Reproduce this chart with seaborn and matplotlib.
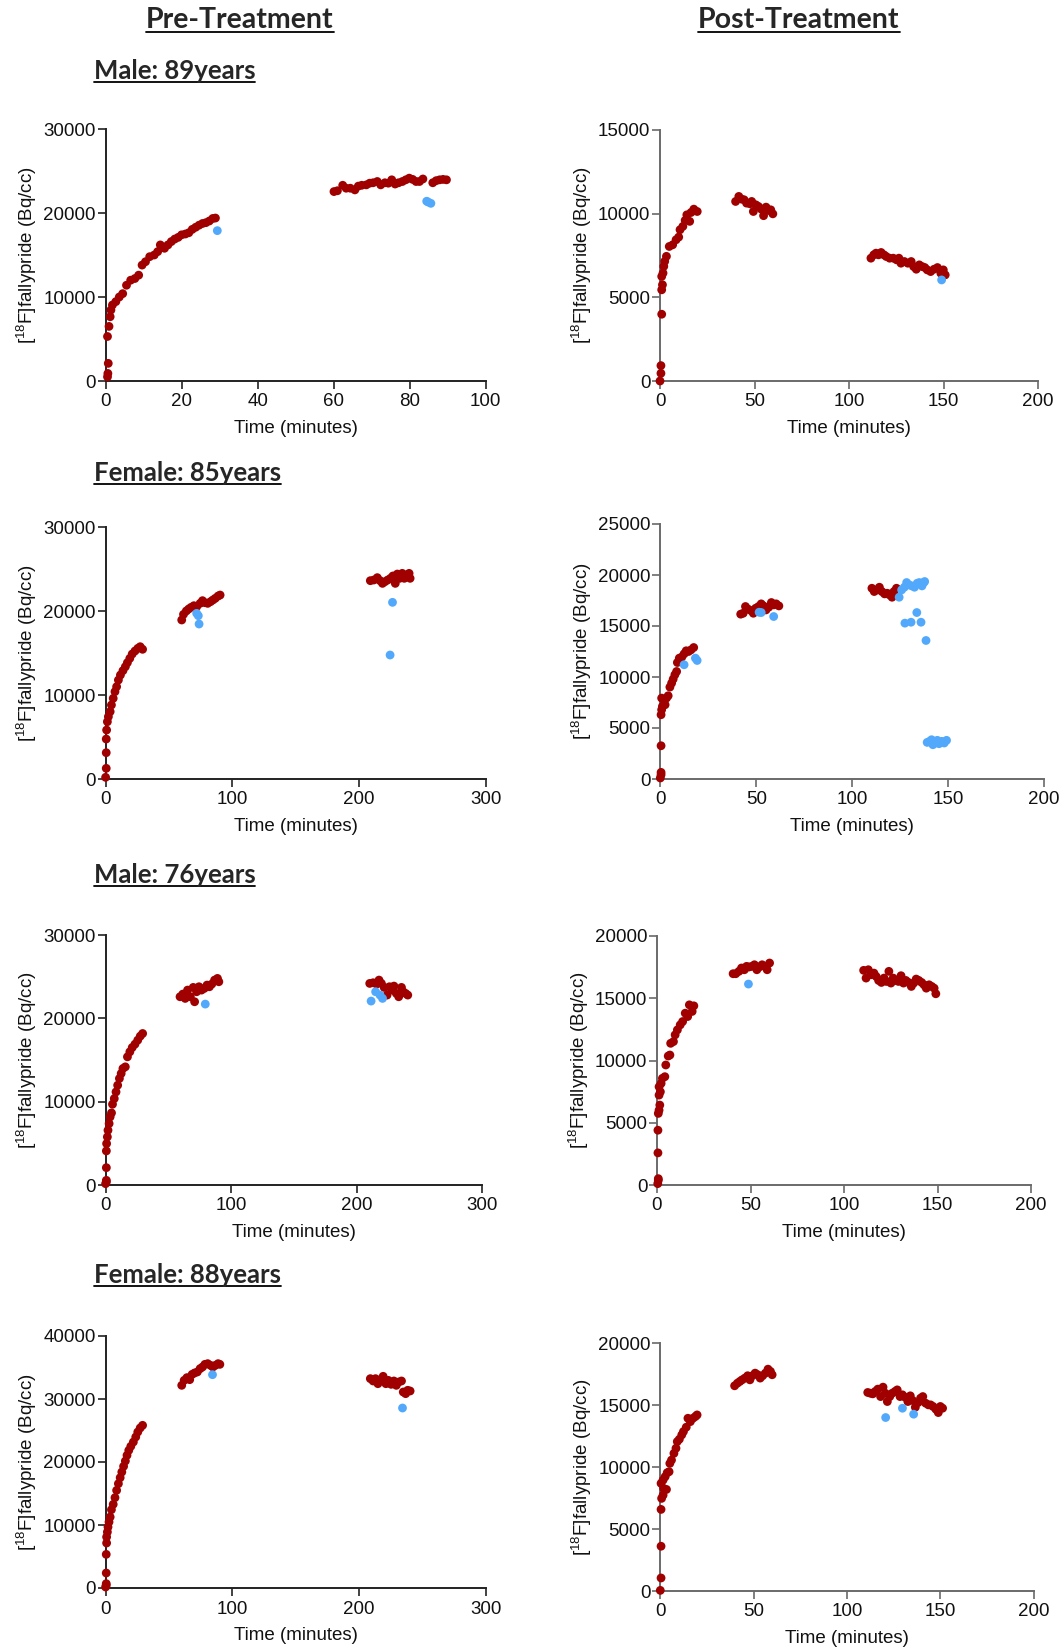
import numpy as np
import pandas as pd
import matplotlib
matplotlib.use("Agg")
import matplotlib.pyplot as plt
import seaborn as sns
from matplotlib.lines import Line2D

# ---------------- DATA ----------------
col_titles = ["Pre-Treatment", "Post-Treatment"]
row_titles = ["Male: 89years", "Female: 85years", "Male: 76years", "Female: 88years"]
y_label = "[$^{18}$F]fallypride (Bq/cc)"
x_label = "Time (minutes)"

# Panel 1: Pre, Male 89
p1_red_x = [0.5, 0.6, 0.7, 0.5, 0.9, 1.2, 1.4, 1.8, 2.7, 3.6, 4.5, 5.5, 6.6, 7.7, 8.7, 9.6, 10.5, 11.6, 12.8, 13.7,
            14.4, 15.5, 16.4, 17.3, 18.2, 19.1, 20.0, 21.0, 21.9, 22.8, 23.7, 24.6, 25.5, 26.4, 27.3, 28.2, 28.9,
            60.1, 61.0, 62.4, 63.3, 64.4, 65.6, 66.5, 67.4, 68.6, 69.5, 70.4, 71.5, 72.4, 73.5, 74.4, 75.3, 76.2,
            77.1, 78.1, 79.0, 79.9, 80.8, 81.7, 82.6, 83.5, 86.1, 87.0, 87.9, 88.8, 89.7]
p1_red_y = [500, 900, 2100, 5300, 6500, 7650, 8450, 9050, 9450, 10000, 10400, 11400, 12000, 12200, 12600, 13800,
            14200, 14800, 15000, 15400, 16200, 15800, 16200, 16600, 16900, 17100, 17400, 17500, 17650, 18050, 18300,
            18550, 18750, 18850, 19050, 19350, 19400,
            22550, 22650, 23300, 22950, 22950, 22750, 23200, 23300, 23350, 23550, 23600, 23750, 23350, 23600, 23550,
            23950, 23450, 23600, 23750, 23950, 24150, 24000, 23750, 23750, 24050, 23600, 23850, 23950, 24000, 23950]
p1_blue_x = [29.4, 84.5, 84.9, 85.6]
p1_blue_y = [17900, 21400, 21300, 21150]

# Panel 2: Post, Male 89
p2_red_x = [0, 0.5, 0.5, 0.9, 0.9, 1.3, 0.9, 1.6, 2.0, 2.5, 3.4, 4.9, 6.7, 8.5, 9.9, 10.6, 12.1, 13.3, 14.2, 15.7,
            16.4, 17.9, 19.7,
            40.0, 41.7, 43.1, 44.5, 45.8, 47.6, 48.5, 49.4, 50.7, 52.1, 53.6, 54.8, 56.1, 57.5, 58.6, 59.7,
            111.6, 113.1, 114.3, 115.6, 117.0, 118.5, 119.7, 121.5, 123.4, 125.2, 126.4, 127.5, 129.3, 131.1, 132.9,
            134.2, 135.6, 137.2, 138.7, 140.1, 141.4, 143.2, 145.0, 146.8, 148.6, 149.9, 150.9]
p2_red_y = [0, 460, 920, 3990, 5450, 5750, 6250, 6450, 6850, 7150, 7450, 8040, 8140, 8440, 8600, 9040, 9240, 9600,
            9930, 9540, 10070, 10270, 10130,
            10730, 11030, 10870, 10830, 10630, 10590, 10730, 10130, 10530, 10430, 10270, 9880, 10390, 10190, 10230,
            9990,
            7340, 7540, 7640, 7540, 7680, 7540, 7440, 7340, 7340, 7240, 7340, 7040, 7140, 7040, 7140, 6840, 6680,
            6940, 6840, 6780, 6640, 6540, 6680, 6780, 6440, 6640, 6340]
p2_blue_x = [149.0]
p2_blue_y = [6040]

# Panel 3: Pre, Female 85
p3_red_x = [0, 0.5, 0.5, 0.5, 0.8, 1.4, 2.2, 3.6, 4.6, 6.0, 7.4, 8.7, 10.1, 11.7, 13.7, 15.6, 17.2, 19.1, 21.0,
            23.2, 25.4, 27.3, 29.2,
            60.1, 61.5, 63.7, 65.6, 67.5, 69.7, 71.9, 74.6, 76.5, 78.4, 80.6, 82.8, 84.7, 86.6, 88.8, 90.4,
            209.0, 211.7, 214.5, 216.7, 218.6, 220.5, 222.7, 224.9, 226.8, 228.7, 230.3, 232.2, 234.2, 235.8, 237.7,
            239.6, 240.4]
p3_red_y = [200, 1270, 3130, 4760, 5830, 6820, 7420, 8020, 8810, 9600, 10400, 10990, 11780, 12380, 12900, 13370,
            13850, 14360, 14880, 15240, 15550, 15750, 15440,
            18930, 19600, 20000, 20240, 20440, 20630, 20510, 20910, 21230, 20990, 20910, 21110, 21310, 21510, 21780,
            21900,
            23610, 23690, 23970, 23610, 23290, 23490, 23690, 23890, 24170, 23290, 24400, 23890, 24480, 23890, 24280,
            24480, 23890]
p3_blue_x = [71.9, 73.2, 73.8, 226.5, 224.6]
p3_blue_y = [19720, 19440, 18450, 21030, 14760]

# Panel 4: Post, Female 85
p4_red_x = [0, 0.4, 0.4, 0.4, 0.4, 0.7, 1.1, 0.7, 1.8, 2.5, 3.2, 4.1, 5.0, 5.9, 6.7, 7.6, 8.5, 8.9, 9.9, 11.2,
            12.4, 13.5, 14.7, 16.0, 17.4,
            41.9, 43.2, 44.4, 45.8, 47.2, 48.5, 49.7, 51.2, 52.6, 53.8, 55.1, 56.5, 57.9, 59.1, 60.4, 61.8,
            110.3, 111.5, 113.0, 114.2, 115.5, 116.9, 118.3, 119.5, 120.8, 121.8, 123.1]
p4_red_y = [100, 420, 650, 3260, 6300, 6790, 7120, 7930, 7770, 7280, 7930, 8160, 9010, 9400, 9790, 10220, 10540,
            11420, 11850, 11950, 12270, 12570, 12500, 12660, 12890,
            16160, 16250, 16910, 16650, 16520, 16250, 16740, 16910, 17170, 16970, 16580, 16840, 17300, 17070, 17170,
            16970,
            18700, 18380, 18540, 18800, 18380, 18150, 18210, 18050, 17820, 18380, 18700]
p4_blue_x = [12.4, 18.3, 19.2, 51.5, 52.6, 59.1,
             124.5, 125.8, 127.2, 128.4, 129.7, 131.1, 132.5, 133.9, 135.0, 136.4, 137.3, 137.8,
             127.5, 130.7, 133.7, 135.9, 138.5,
             139.1, 140.3, 141.4, 142.1, 143.2, 144.4, 145.3, 146.7, 148.0, 149.2]
p4_blue_y = [11200, 11850, 11620, 16350, 16320, 15930,
             17820, 18540, 18800, 19260, 19030, 18930, 18800, 19190, 19260, 18930, 19260, 19360,
             15280, 15370, 16320, 15370, 13580,
             3590, 3690, 3850, 3360, 3530, 3790, 3460, 3690, 3530, 3790]

# Panel 5: Pre, Male 76
p5_red_x = [0, 0.6, 0.6, 0.6, 0.6, 0.8, 1.4, 1.9, 2.8, 3.6, 4.7, 5.5, 6.9, 8.3, 9.6, 11.0, 12.4, 13.8, 15.7, 17.4,
            19.3, 21.2, 23.4, 25.6, 27.6, 29.5,
            59.3, 61.5, 63.4, 65.3, 67.5, 69.8, 70.9, 72.5, 74.4, 76.4, 78.6, 80.8, 82.7, 84.6, 86.8, 89.1, 90.2,
            210.4, 213.1, 215.9, 217.8, 219.7, 221.9, 224.2, 226.1, 228.0, 229.7, 231.6, 233.5, 235.7, 237.1,
            239.0, 240.7]
p5_red_y = [160, 360, 560, 2080, 4090, 4970, 5770, 6570, 7370, 8170, 8650, 9690, 10370, 11170, 11970, 12780, 13380,
            13980, 14180, 15380, 15980, 16500, 16900, 17380, 17860, 18180,
            22590, 22910, 22390, 23390, 22590, 23710, 21990, 23190, 23790, 23390, 23590, 23990, 23790, 24110, 24590,
            24790, 24390,
            24190, 24270, 24110, 24590, 24190, 23710, 22790, 23790, 23390, 23870, 22990, 22590, 23710, 23190,
            22990, 22790]
p5_blue_x = [79.4, 211.5, 215.1, 218.6, 220.6]
p5_blue_y = [21710, 22070, 23190, 22790, 22390]

# Panel 6: Post, Male 76
p6_red_x = [0.4, 0.7, 0.7, 0.5, 0.5, 0.7, 1.1, 1.5, 1.1, 1.8, 1.1, 2.2, 2.9, 4.2, 4.7, 6.0, 6.9, 7.3, 8.8, 9.7,
            10.9, 12.4, 13.7, 15.1, 16.4, 17.3, 18.8, 19.7,
            40.7, 42.1, 43.8, 45.2, 46.7, 47.9, 49.2, 50.7, 52.1, 53.4, 54.7, 56.2, 57.6, 58.9, 60.2,
            110.5, 111.8, 113.0, 114.5, 116.0, 117.2, 118.5, 120.0, 121.4, 122.7, 124.0, 125.1, 126.3, 127.6,
            129.1, 130.5, 131.8, 133.1, 134.5, 136.0, 137.3, 138.6, 140.0, 141.5, 142.8, 144.0, 145.5, 146.9,
            148.2, 149.1]
p6_red_y = [110, 380, 510, 2580, 4400, 5750, 6010, 6420, 7220, 7490, 7890, 8160, 8570, 8700, 9640, 10360, 10440,
            11380, 11520, 12060, 12460, 12860, 13130, 13800, 13530, 14470, 13940, 14390,
            16970, 16970, 17160, 17430, 17290, 17560, 17510, 17560, 17690, 17290, 17510, 17690, 17560, 17290, 17830,
            17240, 16620, 17290, 16890, 17020, 16750, 16430, 16270, 16620, 16350, 17160, 16220, 16620, 16430,
            16350, 16810, 16220, 16430, 16270, 15950, 16220, 16540, 16430, 16270, 16080, 15810, 16080, 15950,
            15810, 15360]
p6_blue_x = [48.9]
p6_blue_y = [16140]

# Panel 7: Pre, Female 88
p7_red_x = [0, 0.5, 0.5, 0.5, 0.5, 0.8, 0.8, 1.4, 1.9, 2.7, 3.6, 4.6, 6.0, 7.4, 8.7, 10.1, 11.5, 12.8, 14.2, 15.6,
            16.9, 18.3, 19.9, 21.9, 23.8, 25.4, 27.3, 29.2,
            60.1, 62.0, 64.2, 66.4, 68.3, 70.2, 72.4, 74.6, 76.5, 78.4, 80.6, 82.8, 84.7, 86.6, 88.8, 90.2,
            209.0, 211.2, 213.1, 215.0, 217.2, 219.1, 221.3, 223.2, 225.4, 227.6, 229.5, 231.4, 233.6, 235.0,
            236.9, 238.5, 240.4]
p7_red_y = [160, 420, 690, 2380, 5340, 7140, 8100, 8890, 9680, 10480, 11270, 12430, 13280, 14340, 15500, 16560,
            17510, 18410, 19310, 20160, 21060, 21850, 22490, 23170, 23970, 24760, 25400, 25820,
            32170, 32960, 33390, 33070, 33910, 34130, 34290, 34820, 35080, 35500, 35610, 35340, 35080, 35340, 35610,
            35500,
            33230, 32860, 33230, 32430, 32960, 33600, 32430, 32960, 32330, 32860, 32170, 32700, 32860, 31110,
            30850, 31380, 31270]
p7_blue_x = [84.4, 234.4]
p7_blue_y = [33860, 28570]

# Panel 8: Post, Female 88
p8_red_x = [0, 0.4, 0.4, 0.4, 0.7, 0.4, 1.5, 1.8, 1.5, 2.6, 3.3, 3.7, 4.7, 5.1, 6.0, 7.3, 8.4, 9.1, 10.2, 11.5,
            12.4, 13.9, 14.8, 16.1, 17.5, 18.8, 19.7,
            39.8, 41.3, 42.6, 43.8, 45.3, 46.8, 48.0, 49.3, 50.8, 52.2, 53.5, 54.8, 56.3, 57.7, 59.0, 59.9,
            111.1, 112.5, 113.8, 115.1, 116.5, 118.0, 119.3, 120.5, 121.6, 122.9, 124.2, 125.7, 126.9, 128.4,
            129.7, 131.1, 132.6, 133.9, 135.2, 136.6, 138.1, 139.4, 140.6, 142.1, 143.6, 144.8, 146.1, 147.6,
            148.9, 150.0, 151.2]
p8_red_y = [50, 1050, 3610, 6580, 7470, 8680, 7730, 8270, 8950, 9220, 8190, 9540, 9620, 10290, 10560, 11100,
            11510, 12050, 12240, 12590, 12860, 13210, 13930, 13660, 13930, 14070, 14200,
            16550, 16760, 16900, 17030, 17170, 17360, 17030, 17360, 17570, 17440, 17170, 17360, 17570, 17890, 17710,
            17440,
            16010, 15950, 15900, 16090, 16280, 15680, 16440, 15950, 15280, 15680, 15950, 16090, 16220, 15680,
            15820, 15630, 15280, 15740, 15360, 14820, 15200, 15550, 15680, 15150, 15010, 15010, 14880, 14660,
            14390, 14880, 14740]
p8_blue_x = [120.7, 129.7, 135.7]
p8_blue_y = [13990, 14740, 14260]

x_limits = [100, 200, 300, 200, 300, 200, 300, 200]
x_ticks = [[0, 20, 40, 60, 80, 100], [0, 50, 100, 150, 200], [0, 100, 200, 300], [0, 50, 100, 150, 200],
           [0, 100, 200, 300], [0, 50, 100, 150, 200], [0, 100, 200, 300], [0, 50, 100, 150, 200]]
y_ticks = [[0, 10000, 20000, 30000], [0, 5000, 10000, 15000], [0, 10000, 20000, 30000],
           [0, 5000, 10000, 15000, 20000, 25000], [0, 10000, 20000, 30000], [0, 5000, 10000, 15000, 20000],
           [0, 10000, 20000, 30000, 40000], [0, 5000, 10000, 15000, 20000]]

panels = [
    (p1_red_x, p1_red_y, p1_blue_x, p1_blue_y),
    (p2_red_x, p2_red_y, p2_blue_x, p2_blue_y),
    (p3_red_x, p3_red_y, p3_blue_x, p3_blue_y),
    (p4_red_x, p4_red_y, p4_blue_x, p4_blue_y),
    (p5_red_x, p5_red_y, p5_blue_x, p5_blue_y),
    (p6_red_x, p6_red_y, p6_blue_x, p6_blue_y),
    (p7_red_x, p7_red_y, p7_blue_x, p7_blue_y),
    (p8_red_x, p8_red_y, p8_blue_x, p8_blue_y),
]

# ---------------- STYLE / LAYOUT ----------------
sns.set_theme(style="ticks")
plt.rcParams['font.family'] = ['Liberation Sans', 'DejaVu Sans']
plt.rcParams['mathtext.default'] = 'regular'

W, H = 1062, 1647
fig = plt.figure(figsize=(W / 100, H / 100), dpi=100)
fig.patch.set_facecolor("white")

# axes boxes in pixels: (x0, y_top, x1, y_bottom)
boxes = [
    (105.6, 129, 485.6, 381), (660, 130, 1038, 381),
    (105.6, 527, 485.6, 779), (660.3, 524, 1044, 779),
    (105.6, 935, 482.2, 1185), (657, 936, 1031, 1185),
    (105.6, 1336, 485.6, 1588), (660.3, 1343, 1033.7, 1591),
]

RED = "#a00000"
BLUE = "#52a9fb"
palette = {"kept": RED, "excluded": BLUE}

for i, (box, (rx, ry, bx, by)) in enumerate(zip(boxes, panels)):
    x0, yt, x1, yb = box
    ax = fig.add_axes([x0 / W, 1 - yb / H, (x1 - x0) / W, (yb - yt) / H])
    df = pd.DataFrame({
        "t": list(rx) + list(bx),
        "v": list(ry) + list(by),
        "status": ["kept"] * len(rx) + ["excluded"] * len(bx),
    })
    sns.scatterplot(data=df, x="t", y="v", hue="status", palette=palette, ax=ax,
                    s=40, linewidth=0, legend=False, clip_on=False, zorder=3)
    ax.set_xlim(0, x_limits[i])
    ax.set_ylim(0, y_ticks[i][-1])
    ax.set_xticks(x_ticks[i])
    ax.set_yticks(y_ticks[i])
    ax.set_xticklabels([str(t) for t in x_ticks[i]])
    ax.set_yticklabels([str(t) for t in y_ticks[i]])
    sc = "#222222" if i % 2 == 0 else "#6a6a6a"
    for side in ["left", "bottom"]:
        ax.spines[side].set_color(sc)
        ax.spines[side].set_linewidth(1.4)
    for side in ["top", "right"]:
        ax.spines[side].set_visible(False)
    ax.tick_params(axis="both", direction="out", length=6, width=1.2, color=sc,
                   labelsize=13.5, labelcolor="#111111")
    ax.tick_params(axis="x", pad=3)
    ax.tick_params(axis="y", pad=1)
    ax.set_xlabel(x_label, fontsize=13.5, color="#111111", labelpad=7)
    ax.set_ylabel(y_label, fontsize=13.5, color="#111111", labelpad=3)
    ax.set_facecolor("white")

# titles with underline
texts = []
texts.append(fig.text(240 / W, 1 - 20 / H, col_titles[0], ha="center", va="center",
                      fontsize=20.5, fontweight="bold", family=["Lato", "DejaVu Sans"]))
texts.append(fig.text(799 / W, 1 - 20 / H, col_titles[1], ha="center", va="center",
                      fontsize=20.5, fontweight="bold", family=["Lato", "DejaVu Sans"]))
row_y = [71, 473, 875, 1275]
for t, yy in zip(row_titles, row_y):
    texts.append(fig.text(93.5 / W, 1 - yy / H, t, ha="left", va="center",
                          fontsize=18.5, fontweight="bold", family=["Lato", "DejaVu Sans"]))

fig.canvas.draw()
r = fig.canvas.get_renderer()
for t in texts:
    bb = t.get_window_extent(renderer=r)
    yline = bb.y0 + 1
    fig.add_artist(Line2D([bb.x0 / W, bb.x1 / W], [yline / H, yline / H], transform=fig.transFigure,
                          color="black", linewidth=1.3))

fig.savefig("out.png", dpi=100, facecolor="white")
